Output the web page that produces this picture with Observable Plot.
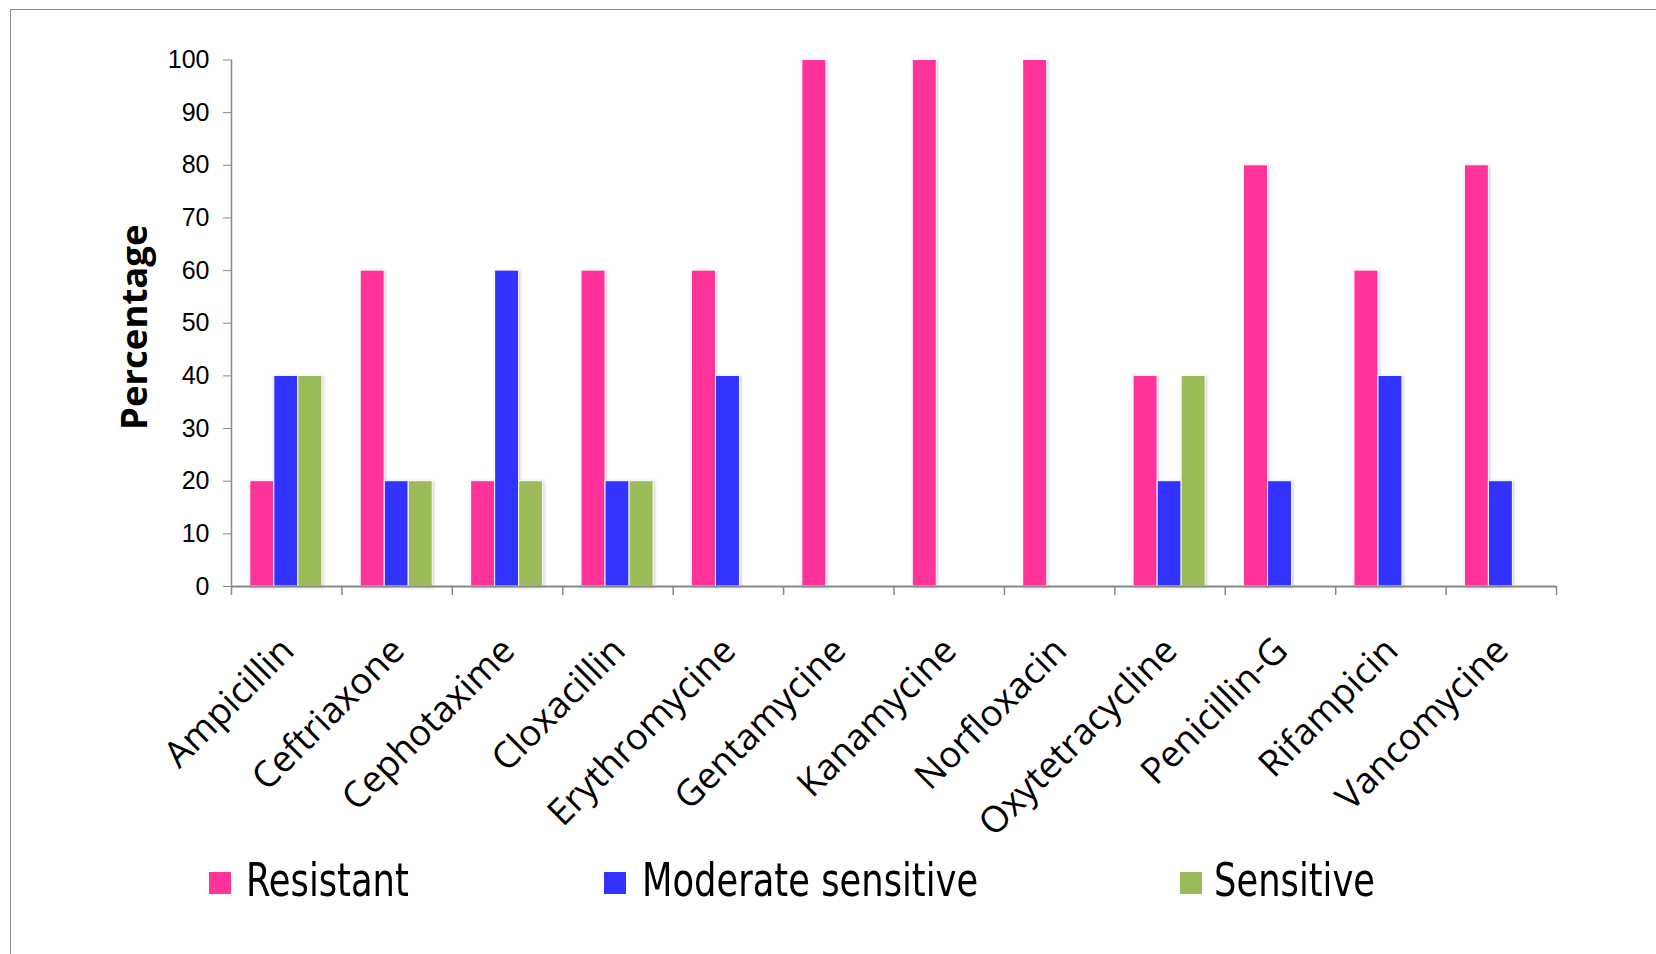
<!DOCTYPE html>
<html>
<head>
<meta charset="utf-8">
<script src="https://cdn.jsdelivr.net/npm/d3@7"></script>
<script src="https://cdn.jsdelivr.net/npm/@observablehq/plot@0.6"></script>
<style>
  html, body { margin: 0; padding: 0; background: #fff; overflow: hidden; }
  #frame { position: absolute; left: 10px; top: 9px; width: 1720px; height: 1020px;
           border: 1px solid #8c8c8c; box-sizing: border-box; }
  #chart { position: absolute; left: 0; top: 0; }
  #chart svg { color: #000; }
  #chart g[aria-label="bar"] rect { filter: drop-shadow(1px 1px 1.5px rgba(0,0,0,0.22)); }
  .swatch { position: absolute; width: 22px; height: 22px; top: 872px; }
  .key { position: absolute; top: 856px; line-height: 1; font-size: 47px;
         font-family: "Liberation Sans Narrow", "Arial Narrow", "DejaVu Sans Condensed", sans-serif;
         color: #000; white-space: nowrap; transform: scaleX(0.835); transform-origin: left center; }
</style>
</head>
<body>
<div id="frame"></div>
<div id="chart"></div>
<div id="legend"></div>
<script>
// Antibiotic susceptibility of the isolates (%)
const drugs = ["Ampicillin", "Ceftriaxone", "Cephotaxime", "Cloxacillin", "Erythromycine",
  "Gentamycine", "Kanamycine", "Norfloxacin", "Oxytetracycline", "Penicillin-G",
  "Rifampicin", "Vancomycine"];
const series = ["Resistant", "Moderate sensitive", "Sensitive"];
const resistant = [20, 60, 20, 60, 60, 100, 100, 100, 40, 80, 60, 80];
const moderate  = [40, 20, 60, 20, 40, 0, 0, 0, 20, 20, 40, 20];
const sensitive = [40, 20, 20, 20, 0, 0, 0, 0, 40, 0, 0, 0];
const colors = ["#FF3399", "#3333FF", "#9BBB59"];
const yTicks = [0, 10, 20, 30, 40, 50, 60, 70, 80, 90, 100];

const values = [resistant, moderate, sensitive];
const rows = series.flatMap((s, i) =>
  drugs.map((d, j) => ({drug: d, series: s, value: values[i][j]})));

// layout
const W = 1656, H = 820;
const mL = 231, mR = 100, mT = 59.5, mB = 234;
const bw = (W - mL - mR) / drugs.length;   // category band width
const groupOffset = 0.17 * bw;              // gap before the first bar in a group
const barW = 0.2175 * bw;                   // width of one bar
const tickDown = 1.7;                       // category tick length below the baseline (y units)

const barMarks = series.map((s, i) =>
  Plot.barY(rows.filter(r => r.series === s && r.value > 0), {
    x: "drug",
    y: "value",
    fill: colors[i],
    stroke: "#fff",
    strokeWidth: 1,
    insetLeft: groupOffset + i * barW,
    insetRight: bw - groupOffset - (i + 1) * barW
  }));

const chart = Plot.plot({
  width: W,
  height: H,
  marginLeft: mL,
  marginRight: mR,
  marginTop: mT,
  marginBottom: mB,
  style: {background: "transparent", overflow: "visible"},
  x: {domain: drugs, padding: 0, round: false, axis: null},
  y: {domain: [0, 100], axis: null},
  marks: [
    ...barMarks,
    // value axis line
    Plot.ruleX([drugs[0]], {dx: -bw / 2, y1: 0, y2: 100, stroke: "#888", strokeWidth: 1.5}),
    Plot.axisY({
      ticks: yTicks, tickSize: 8, tickPadding: 14, stroke: "#888", fill: "#000", label: null,
      fontSize: 25, fontFamily: "Liberation Sans, Arial, sans-serif", tickFormat: d => String(d)
    }),
    // category axis line with ticks between categories
    Plot.ruleY([0], {stroke: "#888", strokeWidth: 2}),
    Plot.ruleX(drugs, {x: d => d, dx: -bw / 2, y1: 0, y2: -tickDown, stroke: "#888", strokeWidth: 1.5}),
    Plot.ruleX([drugs[drugs.length - 1]], {dx: bw / 2, y1: 0, y2: -tickDown, stroke: "#888", strokeWidth: 1.5}),
    // category labels
    Plot.text(drugs, {
      x: d => d, frameAnchor: "bottom", rotate: -45, textAnchor: "end", lineAnchor: "middle",
      dx: 1, dy: 58, fontSize: 36.5, fontFamily: "Open Sans, sans-serif", fill: "#000"
    }),
    // value axis title
    Plot.text(["Percentage"], {
      frameAnchor: "left", textAnchor: "middle", dx: -96, dy: 4, rotate: -90, fontSize: 36.5,
      fontWeight: "bold", fontFamily: "Open Sans, sans-serif", fill: "#000"
    })
  ]
});
document.getElementById("chart").append(chart);

// legend below the plot
const legend = document.getElementById("legend");
const swatchX = [209, 604, 1180];
const textX = [246, 642, 1214];
series.forEach((s, i) => {
  const sw = document.createElement("div");
  sw.className = "swatch";
  sw.style.left = swatchX[i] + "px";
  sw.style.background = colors[i];
  legend.append(sw);
  const t = document.createElement("div");
  t.className = "key";
  t.style.left = textX[i] + "px";
  t.textContent = s;
  legend.append(t);
});
</script>
</body>
</html>
